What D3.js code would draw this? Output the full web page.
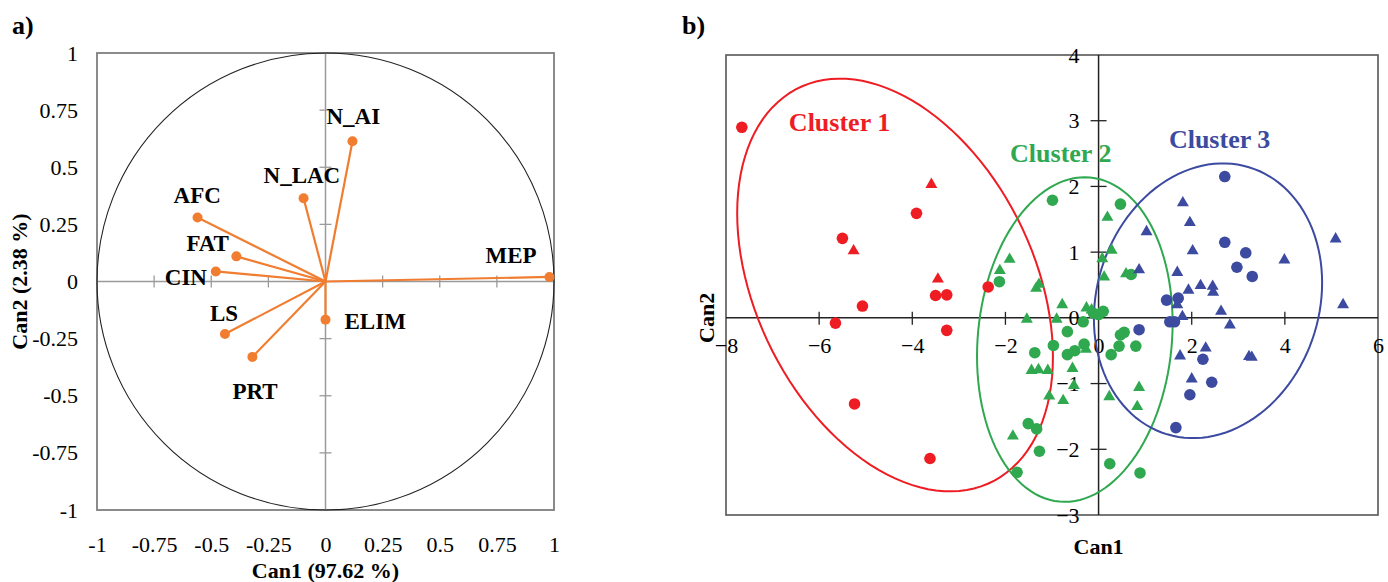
<!DOCTYPE html>
<html>
<head>
<meta charset="utf-8">
<script src="https://cdn.jsdelivr.net/npm/d3@7"></script>
<style>
  body { margin: 0; background: #fff; }
  svg text { font-family: "Liberation Serif", "Times New Roman", serif; fill: #000; }
</style>
</head>
<body>
<div id="chart"></div>
<script>
/**
 * DATA
 * */
// panel a) canonical loadings
const varNames = ["MEP", "N_AI", "N_LAC", "AFC", "FAT", "CIN", "LS", "PRT", "ELIM"];
const can1Loadings = [0.98, 0.118, -0.096, -0.56, -0.39, -0.48, -0.44, -0.32, 0.0];
const can2Loadings = [0.02, 0.614, 0.364, 0.28, 0.11, 0.044, -0.23, -0.33, -0.167];
const loadTicks = [-1, -0.75, -0.5, -0.25, 0, 0.25, 0.5, 0.75, 1];
const loadTickLabels = ["-1", "-0.75", "-0.5", "-0.25", "0", "0.25", "0.5", "0.75", "1"];

// panel b) canonical scores, [Can1, Can2]
const c1Circles = [[-7.66, 2.90], [-3.91, 1.59], [-5.50, 1.21], [-5.07, 0.18], [-5.65, -0.08],
  [-3.50, 0.34], [-3.26, 0.35], [-3.26, -0.19], [-2.37, 0.47], [-5.24, -1.31], [-3.62, -2.14]];
const c1Triangles = [[-3.59, 2.03], [-5.26, 1.02], [-3.45, 0.59]];
const c2Circles = [[-0.99, 1.79], [0.47, 1.73], [0.70, 0.66], [-2.13, 0.55], [-0.11, 0.07],
  [0.0, 0.05], [0.10, 0.10], [-0.33, -0.06], [-0.67, -0.21], [-0.97, -0.42], [-1.37, -0.53],
  [-0.67, -0.56], [-0.51, -0.50], [-0.31, -0.40], [0.55, -0.22], [0.47, -0.26], [0.44, -0.43],
  [0.80, -0.43], [0.27, -0.56], [-1.51, -1.61], [-1.33, -1.69], [-1.27, -2.03], [-1.75, -2.35],
  [0.24, -2.22], [0.89, -2.36]];
const c2Triangles = [[-1.91, 0.89], [-2.12, 0.72], [-1.34, 0.45], [-1.28, 0.51], [0.19, 1.53],
  [0.28, 1.03], [0.08, 0.90], [0.12, 0.62], [0.59, 0.67], [-0.78, 0.20], [-1.54, -0.02],
  [-0.90, -0.02], [-0.26, 0.15], [-0.15, 0.12], [-0.27, -0.48], [-1.44, -0.80], [-1.29, -0.79],
  [-1.09, -0.80], [-0.56, -0.77], [-0.53, -1.03], [-1.06, -1.19], [-0.76, -1.26], [-1.84, -1.80],
  [0.87, -1.06], [0.23, -1.20], [0.83, -1.35]];
const c3Circles = [[2.71, 2.15], [2.71, 1.15], [3.16, 0.99], [2.97, 0.77], [3.30, 0.63],
  [1.46, 0.27], [1.71, 0.30], [1.53, -0.06], [1.63, -0.06], [0.87, -0.18], [2.24, -0.63],
  [2.43, -0.98], [1.96, -1.17], [1.66, -1.67]];
const c3Triangles = [[1.81, 1.75], [1.96, 1.45], [1.03, 1.31], [2.02, 1.02], [1.69, 0.69],
  [0.87, 0.73], [1.93, 0.42], [2.19, 0.49], [2.45, 0.48], [2.46, 0.39], [1.69, 0.20], [2.63, 0.10],
  [1.80, 0.02], [2.82, -0.11], [1.75, -0.58], [2.30, -0.46], [2.00, -0.93], [3.23, -0.59],
  [3.29, -0.60], [3.99, 0.88], [5.09, 1.20], [5.25, 0.20]];

// cluster confidence ellipses: centre, half extents, correlation
const clusterNames = ["Cluster 1", "Cluster 2", "Cluster 3"];
const clusterCx = [-4.37, -0.51, 2.35];
const clusterCy = [0.50, -0.33, 0.26];
const clusterRx = [3.39, 2.10, 2.45];
const clusterRy = [3.14, 2.47, 2.09];
const clusterRho = [-0.348, 0.102, 0.131];
const scoreXTicks = [-8, -6, -4, -2, 0, 2, 4, 6];
const scoreYTicks = [-3, -2, -1, 0, 1, 2, 3, 4];

/**
 * LAYOUT / STYLE
 * */
const width = 1388, height = 582;
const serif = '"Liberation Serif", "Times New Roman", serif';
const orange = "#F07D30";
const clusterColors = ["#EE1D23", "#2FA84F", "#3C4AA0"];
const labelOffset = {
  MEP: [-64, -14], N_AI: [-26, -17], N_LAC: [-40, -15], AFC: [-24, -15], FAT: [-50, -5],
  CIN: [-51, 14], LS: [-15, -13], PRT: [-20, 42], ELIM: [19, 9]
};
const clusterLabelAt = [[-6.65, 2.85], [-1.90, 2.37], [1.51, 2.59]];

const svg = d3.select("#chart").append("svg")
  .attr("width", width).attr("height", height).style("display", "block");

/**
 * PANEL a)
 * */
const xa = d3.scaleLinear().domain([-1, 1]).range([97, 554]);
const ya = d3.scaleLinear().domain([-1, 1]).range([510, 53]);
const ga = svg.append("g");

ga.append("rect")
  .attr("x", xa(-1)).attr("y", ya(1))
  .attr("width", xa(1) - xa(-1)).attr("height", ya(-1) - ya(1))
  .attr("fill", "none").attr("stroke", "#7f7f7f").attr("stroke-width", 1.8);

// zero lines with crossing ticks
ga.append("line").attr("x1", xa(-1)).attr("x2", xa(1)).attr("y1", ya(0)).attr("y2", ya(0))
  .attr("stroke", "#9a9a9a").attr("stroke-width", 1.5);
ga.append("line").attr("x1", xa(0)).attr("x2", xa(0)).attr("y1", ya(-1)).attr("y2", ya(1))
  .attr("stroke", "#9a9a9a").attr("stroke-width", 1.5);
const inner = loadTicks.filter(d => Math.abs(d) < 1 && d !== 0);
ga.selectAll(".xt").data(inner).join("line")
  .attr("x1", d => xa(d)).attr("x2", d => xa(d)).attr("y1", ya(0) - 6).attr("y2", ya(0) + 6)
  .attr("stroke", "#9a9a9a").attr("stroke-width", 1.3);
ga.selectAll(".yt").data(inner).join("line")
  .attr("y1", d => ya(d)).attr("y2", d => ya(d)).attr("x1", xa(0) - 6).attr("x2", xa(0) + 6)
  .attr("stroke", "#9a9a9a").attr("stroke-width", 1.3);

// correlation circle
ga.append("circle").attr("cx", xa(0)).attr("cy", ya(0)).attr("r", xa(1) - xa(0))
  .attr("fill", "none").attr("stroke", "#222").attr("stroke-width", 1.1);

// tick labels
const axAx = ga.append("g").attr("transform", `translate(0,${ya(-1)})`)
  .call(d3.axisBottom(xa).tickValues(loadTicks).tickFormat((d, i) => loadTickLabels[i])
    .tickSize(0).tickPadding(26));
const axAy = ga.append("g").attr("transform", `translate(${xa(-1)},0)`)
  .call(d3.axisLeft(ya).tickValues(loadTicks).tickFormat((d, i) => loadTickLabels[i])
    .tickSize(0).tickPadding(19));
[axAx, axAy].forEach(a => {
  a.select(".domain").remove();
  a.attr("font-size", 22).attr("font-family", serif);
  a.selectAll("text").style("font-family", serif);
});

// vectors
const loadings = varNames.map((n, i) => ({ name: n, x: can1Loadings[i], y: can2Loadings[i] }));
ga.selectAll(".vec").data(loadings).join("line")
  .attr("x1", xa(0)).attr("y1", ya(0))
  .attr("x2", d => xa(d.x)).attr("y2", d => ya(d.y))
  .attr("stroke", orange).attr("stroke-width", 2.2);
ga.selectAll(".dot").data(loadings).join("circle")
  .attr("cx", d => xa(d.x)).attr("cy", d => ya(d.y)).attr("r", 5)
  .attr("fill", orange);
ga.selectAll(".lab").data(loadings).join("text")
  .attr("x", d => xa(d.x) + labelOffset[d.name][0])
  .attr("y", d => ya(d.y) + labelOffset[d.name][1])
  .attr("font-size", 23).attr("font-weight", "bold")
  .text(d => d.name);

// titles
ga.append("text").attr("x", xa(0)).attr("y", 578).attr("text-anchor", "middle")
  .attr("font-size", 22).attr("font-weight", "bold").text("Can1 (97.62 %)");
ga.append("text").attr("transform", `translate(27,${ya(0)}) rotate(-90)`)
  .attr("text-anchor", "middle").attr("font-size", 22).attr("font-weight", "bold")
  .text("Can2 (2.38 %)");
ga.append("text").attr("x", 12).attr("y", 34).attr("font-size", 26).attr("font-weight", "bold").text("a)");

/**
 * PANEL b)
 * */
const xb = d3.scaleLinear().domain([-8, 6]).range([726, 1378]);
const yb = d3.scaleLinear().domain([-3, 4]).range([515, 55]);
const gb = svg.append("g");

gb.append("rect")
  .attr("x", xb(-8)).attr("y", yb(4))
  .attr("width", xb(6) - xb(-8)).attr("height", yb(-3) - yb(4))
  .attr("fill", "none").attr("stroke", "#555").attr("stroke-width", 1.6);

gb.append("line").attr("x1", xb(-8)).attr("x2", xb(6)).attr("y1", yb(0)).attr("y2", yb(0))
  .attr("stroke", "#222").attr("stroke-width", 1.5);
gb.append("line").attr("x1", xb(0)).attr("x2", xb(0)).attr("y1", yb(-3)).attr("y2", yb(4))
  .attr("stroke", "#222").attr("stroke-width", 1.5);
gb.selectAll(".xt").data(scoreXTicks.filter(d => d > -8 && d < 6 && d !== 0)).join("line")
  .attr("x1", d => xb(d)).attr("x2", d => xb(d)).attr("y1", yb(0) - 6).attr("y2", yb(0) + 7)
  .attr("stroke", "#222").attr("stroke-width", 1.3);
gb.selectAll(".yt").data(scoreYTicks.filter(d => d > -3 && d < 4 && d !== 0)).join("line")
  .attr("y1", d => yb(d)).attr("y2", d => yb(d)).attr("x1", xb(0) - 8).attr("x2", xb(0) + 8)
  .attr("stroke", "#222").attr("stroke-width", 1.3);

const axBx = gb.append("g").attr("transform", `translate(0,${yb(0)})`)
  .call(d3.axisBottom(xb).tickValues(scoreXTicks).tickFormat(d3.format("d")).tickSize(0).tickPadding(20));
const axBy = gb.append("g").attr("transform", `translate(${xb(0)},0)`)
  .call(d3.axisLeft(yb).tickValues(scoreYTicks).tickFormat(d3.format("d")).tickSize(0).tickPadding(19));
[axBx, axBy].forEach(a => {
  a.select(".domain").remove();
  a.attr("font-size", 22).attr("font-family", serif);
  a.selectAll("text").style("font-family", serif);
});

// ellipses
const ellipse = i => {
  const pts = d3.range(0, 361, 3).map(deg => {
    const t = deg * Math.PI / 180;
    const dx = clusterRx[i] * Math.cos(t);
    const dy = clusterRy[i] * (clusterRho[i] * Math.cos(t) + Math.sqrt(1 - clusterRho[i] ** 2) * Math.sin(t));
    return [xb(clusterCx[i] + dx), yb(clusterCy[i] + dy)];
  });
  return d3.line().curve(d3.curveLinearClosed)(pts);
};
gb.selectAll(".ell").data(clusterNames).join("path")
  .attr("d", (d, i) => ellipse(i))
  .attr("fill", "none").attr("stroke", (d, i) => clusterColors[i]).attr("stroke-width", 2);

// points
const circleSets = [c1Circles, c2Circles, c3Circles];
const triSets = [c1Triangles, c2Triangles, c3Triangles];
const tri = d3.symbol().type(d3.symbolTriangle).size(62);
circleSets.forEach((set, i) => {
  gb.append("g").selectAll("circle").data(set).join("circle")
    .attr("cx", d => xb(d[0])).attr("cy", d => yb(d[1])).attr("r", 5.8)
    .attr("fill", clusterColors[i]);
});
triSets.forEach((set, i) => {
  gb.append("g").selectAll("path").data(set).join("path")
    .attr("d", tri)
    .attr("transform", d => `translate(${xb(d[0])},${yb(d[1])})`)
    .attr("fill", clusterColors[i]);
});

// cluster labels
gb.selectAll(".clab").data(clusterNames).join("text")
  .attr("x", (d, i) => xb(clusterLabelAt[i][0]))
  .attr("y", (d, i) => yb(clusterLabelAt[i][1]))
  .attr("font-size", 26).attr("font-weight", "bold")
  .style("fill", (d, i) => clusterColors[i])
  .text(d => d);

// titles
gb.append("text").attr("x", xb(0)).attr("y", 554).attr("text-anchor", "middle")
  .attr("font-size", 22).attr("font-weight", "bold").text("Can1");
gb.append("text").attr("transform", `translate(714,${yb(0)}) rotate(-90)`)
  .attr("text-anchor", "middle").attr("font-size", 22).attr("font-weight", "bold").text("Can2");
gb.append("text").attr("x", 682).attr("y", 34).attr("font-size", 26).attr("font-weight", "bold").text("b)");
</script>
</body>
</html>
